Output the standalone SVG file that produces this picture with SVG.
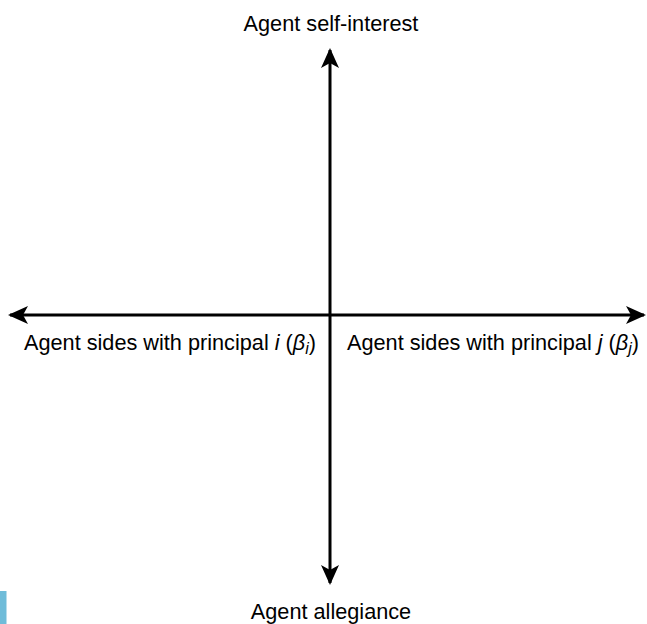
<svg xmlns="http://www.w3.org/2000/svg" width="647" height="624" viewBox="0 0 647 624">
<style>
text{font-family:"Liberation Sans",Arial,sans-serif;font-size:21.7px;fill:#000}
.it{font-style:italic}
.sub{font-style:italic;font-size:16px}
.ax{stroke:#000;stroke-width:3;fill:none}
</style>
<defs>
<marker id="ah" viewBox="0 0 20 18" refX="18" refY="9" markerWidth="20" markerHeight="18" markerUnits="userSpaceOnUse" orient="auto">
<path d="M0,0 L20,9 L0,18 L5,9 Z" fill="#000"/>
</marker>
</defs>
<rect x="0" y="591" width="6.5" height="33" fill="#6fbcd9"/>
<g id="connectors">
<line class="ax" x1="330" y1="315" x2="330" y2="50" marker-end="url(#ah)"/>
<line class="ax" x1="330" y1="315" x2="330" y2="583" marker-end="url(#ah)"/>
<line class="ax" x1="330" y1="315" x2="10" y2="315" marker-end="url(#ah)"/>
<line class="ax" x1="330" y1="315" x2="644" y2="315" marker-end="url(#ah)"/>
</g>
<g id="top"><text x="331" y="31" text-anchor="middle">Agent self-interest</text></g>
<g id="bottom"><text x="331" y="619" text-anchor="middle">Agent allegiance</text></g>
<g id="left"><text x="316" y="350" text-anchor="end">Agent sides with principal <tspan class="it">i</tspan> (<tspan class="it">β</tspan><tspan class="sub" dy="4">i</tspan><tspan dy="-4">)</tspan></text></g>
<g id="right"><text x="347" y="350">Agent sides with principal <tspan class="it">j</tspan> (<tspan class="it">β</tspan><tspan class="sub" dy="4">j</tspan><tspan dy="-4">)</tspan></text></g>
</svg>
